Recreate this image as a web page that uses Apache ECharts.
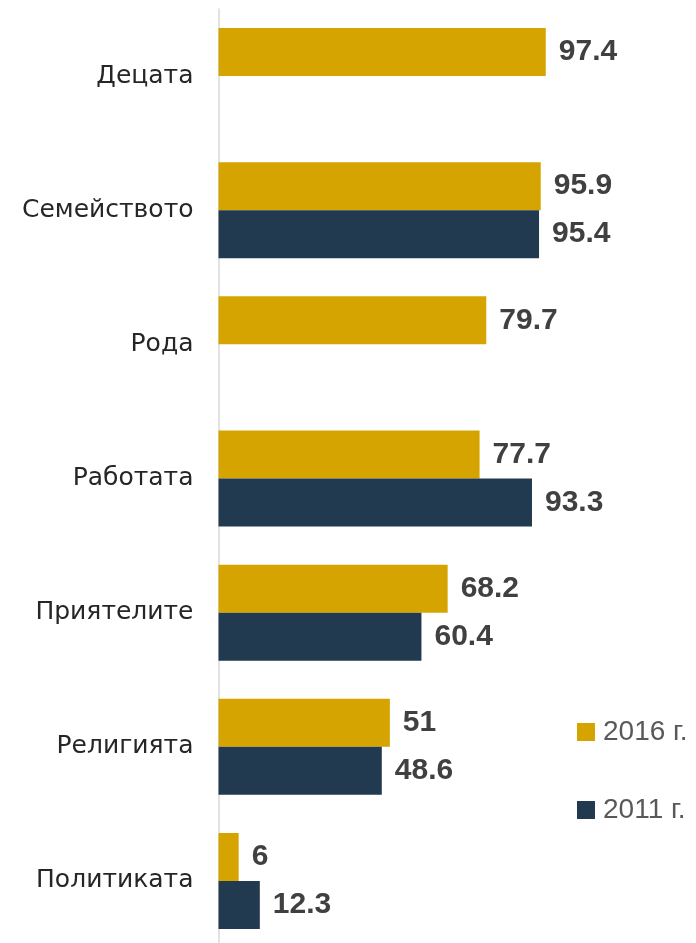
<!DOCTYPE html>
<html>
<head>
<meta charset="utf-8">
<script src="https://cdn.jsdelivr.net/npm/echarts@6/dist/echarts.min.js"></script>
<style>
  html, body { margin: 0; padding: 0; background: #fff; }
  #main { width: 696px; height: 943px; }
</style>
</head>
<body>
<div id="main"></div>
<script>
// категории (отгоре надолу)
const categories = ['Децата', 'Семейството', 'Рода', 'Работата', 'Приятелите', 'Религията', 'Политиката'];

// стойности
const values2016 = [97.4, 95.9, 79.7, 77.7, 68.2, 51, 6];
const values2011 = [null, 95.4, null, 93.3, 60.4, 48.6, 12.3];

const seriesNames = ['2016 г.', '2011 г.'];
const colors = ['#D6A400', '#213A4F'];

const chart = echarts.init(document.getElementById('main'));

const valueLabel = {
  show: true,
  position: 'right',
  distance: 13,
  color: '#404040',
  fontFamily: 'Liberation Sans',
  fontWeight: 'bold',
  fontSize: 30
};

chart.setOption({
  animation: false,
  grid: {
    left: 218.5,
    top: 9,
    width: 336,
    height: 939,
    outerBoundsMode: 'none' // решетката излиза малко под долния край
  },
  legend: {
    orient: 'vertical',
    left: 577,
    top: 717,
    padding: 0,
    itemWidth: 18,
    itemHeight: 18,
    itemGap: 48,
    icon: 'rect',
    textStyle: {
      color: '#595959',
      fontFamily: 'Liberation Sans',
      fontSize: 28,
      lineHeight: 30,
      padding: [0, 0, 0, 3]
    },
    data: seriesNames
  },
  xAxis: {
    type: 'value',
    min: 0,
    max: 100,
    show: false
  },
  yAxis: {
    type: 'category',
    inverse: true,
    data: categories,
    axisLine: { show: true, lineStyle: { color: '#D9D9D9', width: 1.5 } },
    axisTick: { show: false },
    axisLabel: {
      margin: 25,
      color: '#262626',
      fontFamily: 'DejaVu Sans',
      fontSize: 25,
      padding: [5, 0, 0, 0]
    }
  },
  series: [
    {
      name: seriesNames[0],
      type: 'bar',
      barWidth: 48,
      barGap: '0%',
      itemStyle: { color: colors[0] },
      label: valueLabel,
      data: values2016
    },
    {
      name: seriesNames[1],
      type: 'bar',
      barWidth: 48,
      barGap: '0%',
      itemStyle: { color: colors[1] },
      label: valueLabel,
      data: values2011
    }
  ]
});
</script>
</body>
</html>
